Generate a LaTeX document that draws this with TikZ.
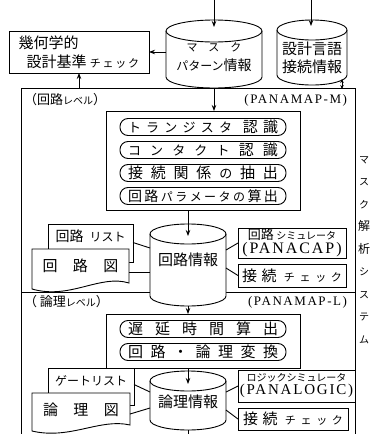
\documentclass[tikz,border=0pt]{standalone}
\usepackage{fontspec}
\setmainfont{Noto Sans CJK JP}
\newfontfamily\lat[LetterSpace=12]{Liberation Serif}
\usetikzlibrary{arrows.meta,calc}
\newcommand\drawcyl[5]{%
  \draw[fill=white] (#1-#4,#2) -- (#1-#4,#3) arc[start angle=180, end angle=0, x radius=#4, y radius=#5] -- (#1+#4,#2);
  \draw (#1,#2) ellipse [x radius=#4, y radius=#5];}
\newcommand\fsz[1]{\fontsize{#1}{#1}\selectfont}
\begin{document}
\begin{tikzpicture}[x=1pt,y=-1pt,line width=0.9pt,
  >={Stealth[length=6pt,width=4.5pt]},
  every node/.style={inner sep=0pt, outer sep=0pt},
  box/.style={draw, fill=white},
  pill/.style={draw, rounded corners=8pt, minimum width=166pt, minimum height=17pt},
  body/.style={align=center},
]
\useasboundingbox (0,0) rectangle (372,434);
% frame
\coordinate (FT) at (0,88);
\draw (21,434) -- (21,88) -- (355,88) -- (355,434);
\draw (21,292) -- (355,292);
% geometric check box
\node[box, minimum width=140pt, minimum height=42pt, align=left, font=\fsz{15}] (geo) at (79,52)
  {幾何学的\\[4pt]\hspace{8pt}設計基準\hspace{3pt}{\fsz{11}チ\,ェ\,ッ\,ク}};
% mask cylinder
\drawcyl{214}{31}{77}{48}{11}
\node[body, font=\fsz{14}, minimum width=96pt, minimum height=46pt] (mask) at (214,57)
  {{\fsz{11}マ\quad ス\quad ク}\\[5pt]{\fsz{12}パターン}情報};
% spec cylinder
\drawcyl{312}{30}{75}{35}{10}
\node[body, font=\fsz{15}, minimum width=70pt, minimum height=44pt] (spec) at (312,58)
  {設計言語\\[3pt]接続情報};
% top inputs
\coordinate (in1) at (214,0); \coordinate (in1e) at (214,27);
\coordinate (in2) at (311,0); \coordinate (in2e) at (311,26);
\draw[->] (in1) -- (in1e);
\draw[->] (in2) -- (in2e);
\draw[->] (mask.west |- geo.east) -- (geo.east);
\draw[->] (geo.south |- FT) -- (geo.south);
\coordinate (s1) at (342,79); \coordinate (s2) at (342,89);
\draw[<->,>={Stealth[length=4pt,width=3.5pt]}] (s1) -- (s2);
% level labels
\node[anchor=west, font=\fsz{13}] (lvl1) at (24,100) {（回路{\fsz{10}レベル}）};
\node[anchor=east, font=\lat\fsz{13}] (pm) at (347,100) {(PANAMAP-M)};
% box 1
\node[box, minimum width=194pt, minimum height=99pt] (box1) at (203,160.5) {};
\node[pill] (p1) at (203,127) {\makebox[150pt]{\fsz{13}ト\hfill ラ\hfill ン\hfill ジ\hfill ス\hfill タ\hfill\hfill {\fsz{15}認}\hfill {\fsz{15}識}}};
\node[pill] (p2) at (203,150) {\makebox[150pt]{\fsz{13}コ\hfill ン\hfill タ\hfill ク\hfill ト\hfill {\fsz{15}認}\hfill {\fsz{15}識}}};
\node[pill] (p3) at (203,173) {\makebox[150pt]{\fsz{15}接\hfill 続\hfill 関\hfill 係\hfill {\fsz{13}の}\hfill 抽\hfill 出}};
\node[pill] (p4) at (203,196) {\makebox[150pt]{\fsz{14}回\hfill 路\hfill {\fsz{12}パ\hfill ラ\hfill メ\hfill ー\hfill タ\hfill の}\hfill 算\hfill 出}};
\coordinate (mb) at (214,88);
\draw[->] (mb) -- (mb |- box1.north);
% circuit info cylinder
\drawcyl{188}{234}{296}{38}{10}
\node[font=\fsz{15}, minimum width=76pt, minimum height=48pt] (ckt) at (188,260) {回路情報};
\draw[->] (box1.south -| ckt.north) -- (ckt.north);
% circuit list / diagram documents
\draw (48,249) -- (48,224) -- (133,224) -- (133,262) -- (129,262);
\node[minimum width=85pt, minimum height=25pt, font=\fsz{14}] (clist) at (90.5,236.5) {回路\hspace{6pt}{\fsz{12}リスト}};
\draw[fill=white] (32,249) -- (129,249) -- (129,283) .. controls (100,274) and (70,300) .. (32,289) -- cycle;
\node[minimum width=97pt, minimum height=34pt, font=\fsz{15}] (cdia) at (80.5,266) {\makebox[76pt]{回\hfill 路\hfill 図}};
\draw ($(clist.east)+(0,6)$) -- ($(ckt.west)+(0,-12)$);
\draw ($(cdia.east)+(0,6)$) -- ($(ckt.west)+(0,12)$);
% right boxes 1
\node[box, minimum width=108pt, minimum height=30pt, align=center, font=\fsz{14}] (sim1) at (292,243)
  {{\fsz{13}回路}\,{\fsz{10}シミュレータ}\\{\lat\fsz{16}(PANACAP)}};
\node[box, minimum width=108pt, minimum height=23pt] (chk1) at (292,275.5)
  {\makebox[100pt]{{\fsz{15}接}\hfill{\fsz{15}続}\hfill\fsz{11} チ\hfill ェ\hfill ッ\hfill ク}};
\draw ($(ckt.east)+(0,-10)$) -- (sim1.west);
\draw ($(ckt.east)+(0,8)$) -- (chk1.west);
% logic level
\node[anchor=west, font=\fsz{13}] (lvl2) at (24,302) {（ 論理{\fsz{10}レベル}）};
\node[anchor=east, font=\lat\fsz{13}] (pl) at (347,302) {(PANAMAP-L)};
\node[box, minimum width=194pt, minimum height=54pt] (box2) at (203,341) {};
\node[pill] (q1) at (203,329) {\makebox[150pt]{\fsz{15}遅\hfill 延\hfill 時\hfill 間\hfill 算\hfill 出}};
\node[pill] (q2) at (203,352) {\makebox[150pt]{\fsz{15}回\hfill 路\hfill ・\hfill 論\hfill 理\hfill 変\hfill 換}};
\coordinate (cb1) at (188,306);
\draw[->] (cb1) -- (cb1 |- box2.north);
% logic info cylinder
\drawcyl{188}{381}{420}{38}{10}
\node[font=\fsz{15}, minimum width=76pt, minimum height=36pt] (lgc) at (188,402) {論理情報};
\draw[->] (box2.south -| lgc.north) -- (lgc.north);
\coordinate (lb) at (188,430); \coordinate (lbe) at (188,434);
\draw (lb) -- (lbe);
% gate list / logic diagram
\draw (48,393) -- (48,368) -- (134,368) -- (134,405) -- (130,405);
\node[minimum width=86pt, minimum height=25pt, font=\fsz{12}] (glist) at (91,380.5) {ゲートリスト};
\draw[fill=white] (32,393) -- (130,393) -- (130,425) .. controls (100,418) and (70,440) .. (32,431) -- cycle;
\node[minimum width=98pt, minimum height=34pt, font=\fsz{15}] (ldia) at (81,410) {\makebox[76pt]{論\hfill 理\hfill 図}};
\draw ($(glist.east)+(0,4)$) -- ($(lgc.west)+(0,-10)$);
\draw ($(ldia.east)+(0,4)$) -- ($(lgc.west)+(0,6)$);
% right boxes 2
\node[box, minimum width=117pt, minimum height=32pt, align=center, font=\fsz{13}] (lsim) at (296.5,386)
  {{\fsz{10}ロジックシミュレータ}\\{\lat\fsz{15}(PANALOGIC)}};
\node[box, minimum width=110pt, minimum height=22pt] (chk2) at (293,419)
  {\makebox[100pt]{{\fsz{15}接}\hfill{\fsz{15}続}\hfill\fsz{11} チ\hfill ェ\hfill ッ\hfill ク}};
\draw ($(lgc.east)+(0,-10)$) -- (lsim.west);
\draw ($(lgc.east)+(0,8)$) -- (chk2.west);
% side text
\node[align=center, font=\fontsize{10}{22.5}\selectfont] (side) at (364,250)
  {マ\\ス\\ク\\{\fsz{12}解}\\{\fsz{12}析}\\シ\\ス\\テ\\ム};
\end{tikzpicture}
\end{document}
